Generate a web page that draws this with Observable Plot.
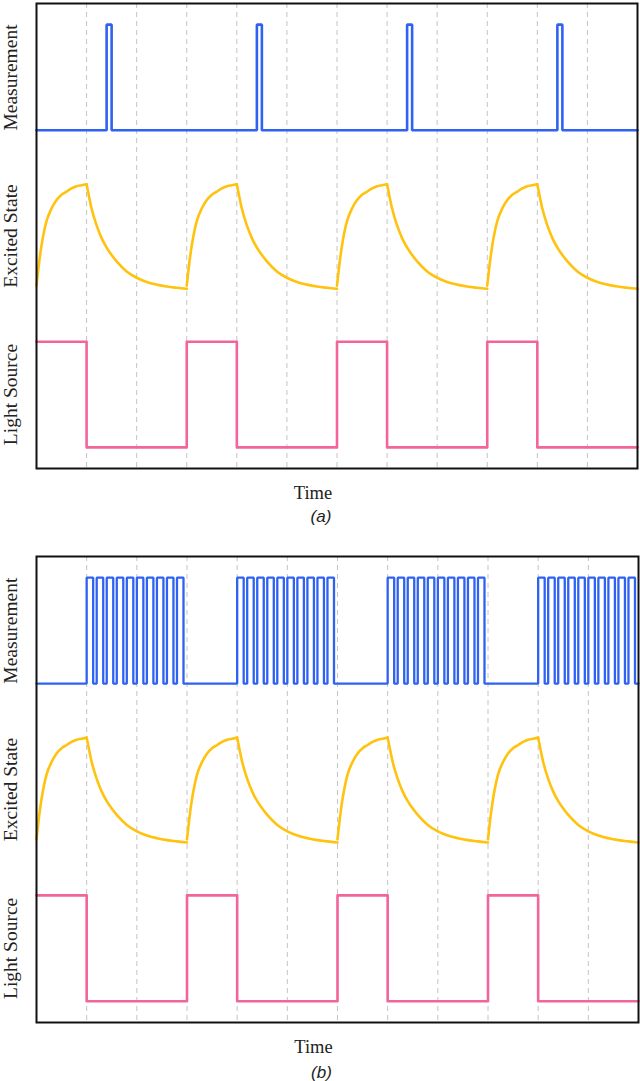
<!DOCTYPE html>
<html>
<head>
<meta charset="utf-8">
<script src="https://cdn.jsdelivr.net/npm/d3@7"></script>
<script src="https://cdn.jsdelivr.net/npm/@observablehq/plot@0.6"></script>
<style>
  html, body { margin: 0; padding: 0; background: #fff; }
  #root svg { display: block; }
</style>
</head>
<body>
<div id="root"></div>
<script>
// ---------- data ----------
const trackNames = ["Measurement", "Excited State", "Light Source"];
const trackBases = [3, 1.5, 0];           // stacking offset of each trace
const gridTimes = [1, 2, 3, 4, 5, 6, 7, 8, 9, 10, 11];
const cycleStarts = [0, 3, 6, 9];

// Light source (square wave, step-after)
const lightT = [0, 1, 3, 4, 6, 7, 9, 10, 12];
const lightV = [1, 0, 1, 0, 1, 0, 1, 0, 0];

// Excited state: rise while light on, decay while off (per cycle)
const riseT = [0, 0.05, 0.1, 0.15, 0.2, 0.3, 0.4, 0.5, 0.6, 0.7, 0.8, 0.9, 1.0];
const riseV = [0.03, 0.24, 0.41, 0.54, 0.64, 0.76, 0.84, 0.89, 0.92, 0.95, 0.97, 0.98, 0.99];
const decayT = [1.0, 1.05, 1.1, 1.2, 1.3, 1.4, 1.5, 1.6, 1.8, 2.0, 2.2, 2.4, 2.6, 2.8, 3.0];
const decayV = [0.99, 0.87, 0.76, 0.6, 0.48, 0.39, 0.32, 0.26, 0.165, 0.105, 0.065, 0.04, 0.022, 0.01, 0.0];

// Measurement (a): one short pulse per cycle
const measAT = [0, 1.4, 1.5, 4.4, 4.5, 7.4, 7.5, 10.4, 10.5, 12];
const measAV = [0, 1, 0, 1, 0, 1, 0, 1, 0, 0];

// Measurement (b): train of pulses during the dark part of each cycle
const trainOffsets = [1.0, 1.2, 1.4, 1.6, 1.8, 2.0, 2.2, 2.4, 2.6, 2.8];
const trainWidth = 0.13;

const captions = ["(a)", "(b)"];

// ---------- colours ----------
const BLUE = "#2f62f2", GOLD = "#ffc20e", PINK = "#f2649a";

// ---------- build tables ----------
const lightData = lightT.map((t, i) => ({t, v: trackBases[2] + lightV[i]}));
const excitedData = cycleStarts.flatMap((c, k) => [
  ...riseT.map((t, i) => ({t: c + t, v: trackBases[1] + riseV[i], seg: "r" + k})),
  ...decayT.map((t, i) => ({t: c + t, v: trackBases[1] + decayV[i], seg: "d" + k}))
]);
const measAData = measAT.map((t, i) => ({t, v: trackBases[0] + measAV[i]}));
const measBData = [{t: 0, v: trackBases[0]}]
  .concat(cycleStarts.flatMap(c => trainOffsets.flatMap(o => [
    {t: c + o, v: trackBases[0] + 1},
    {t: c + o + trainWidth, v: trackBases[0]}
  ])))
  .concat([{t: 12, v: trackBases[0]}]);
const labelData = trackNames.map((name, i) => ({name, y: trackBases[i] + 0.5}));

function panel(measData, caption, opts) {
  return Plot.plot({
    width: 640,
    height: opts.height,
    marginTop: opts.mt,
    marginBottom: opts.mb,
    marginLeft: 36,
    marginRight: opts.mr,
    style: {background: "#fff", overflow: "visible"},
    x: {domain: [0, 12], axis: null},
    y: {domain: [-0.2, 4.2], axis: null},
    marks: [
      Plot.ruleX(gridTimes, {stroke: "#c4c4c4", strokeWidth: 1, strokeDasharray: "5,4"}),
      Plot.line(lightData, {x: "t", y: "v", curve: "step-after", stroke: PINK, strokeWidth: 2.6}),
      Plot.line(excitedData, {x: "t", y: "v", z: "seg", curve: "monotone-x", stroke: GOLD, strokeWidth: 2.6}),
      Plot.line(measData, {x: "t", y: "v", curve: "step-after", stroke: BLUE, strokeWidth: opts.mw, strokeLinejoin: "miter"}),
      Plot.frame({stroke: "#111", strokeWidth: 2}),
      Plot.text(labelData, {
        y: "y", text: "name", frameAnchor: "left", dx: -26, rotate: -90,
        textAnchor: "middle", lineAnchor: "middle",
        fontFamily: "Liberation Serif", fontSize: 19.5, fill: "#222"
      }),
      Plot.text(["Time"], {
        text: d => d, frameAnchor: "bottom", dx: -24, dy: 25,
        textAnchor: "middle", lineAnchor: "middle",
        fontFamily: "Liberation Serif", fontSize: 18.5, fill: "#222"
      }),
      Plot.text([caption], {
        text: d => d, frameAnchor: "bottom", dx: -16, dy: opts.cdy,
        textAnchor: "middle", lineAnchor: "middle",
        fontFamily: "Liberation Sans", fontStyle: "italic", fontSize: 17, fill: "#222"
      })
    ]
  });
}

const root = document.getElementById("root");
root.append(panel(measAData, captions[0], {height: 540, mt: 3, mb: 72, mr: 3, mw: 2.6, cdy: 48}));
root.append(panel(measBData, captions[1], {height: 541, mt: 16, mb: 59, mr: 2, mw: 2.3, cdy: 50}));
</script>
</body>
</html>
